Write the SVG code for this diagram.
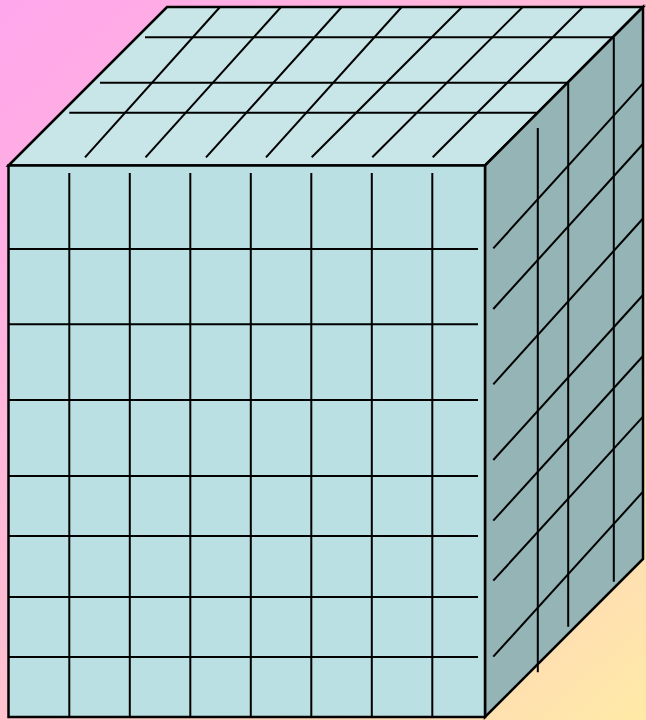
<svg xmlns="http://www.w3.org/2000/svg" width="646" height="720" viewBox="0 0 646 720">
  <defs>
    <linearGradient id="bg" gradientUnits="userSpaceOnUse" x1="0" y1="0" x2="646" y2="720">
      <stop offset="0" stop-color="#FFA6EC"/>
      <stop offset="0.5" stop-color="#FFBFD2"/>
      <stop offset="1" stop-color="#FFEAA6"/>
    </linearGradient>
  </defs>
  <style>
    .face { stroke: #000; stroke-width: 2.5; stroke-linejoin: miter; }
    .grid line { stroke: #000; stroke-width: 2; }
  </style>
  <rect x="0" y="0" width="646" height="720" fill="url(#bg)"/>

  <g id="top-face">
    <polygon class="face" points="8.5,165.5 167,7 643,7 485,165.5" fill="#C8E5E7"/>
  </g>
  <g id="right-face">
    <polygon class="face" points="485,165.5 643,7 643,559 485,717" fill="#95B4B5"/>
  </g>
  <g id="front-face">
    <rect class="face" x="8.5" y="165.5" width="476.5" height="551.5" fill="#BBE0E3"/>
  </g>

  <g id="front-grid" class="grid">
    <line x1="69.3" y1="173" x2="69.3" y2="717"/>
    <line x1="129.8" y1="173" x2="129.8" y2="717"/>
    <line x1="190.3" y1="173" x2="190.3" y2="717"/>
    <line x1="250.8" y1="173" x2="250.8" y2="717"/>
    <line x1="311.3" y1="173" x2="311.3" y2="717"/>
    <line x1="371.8" y1="173" x2="371.8" y2="717"/>
    <line x1="432.3" y1="173" x2="432.3" y2="717"/>
    <line x1="8.5" y1="249" x2="478" y2="249"/>
    <line x1="8.5" y1="324.3" x2="478" y2="324.3"/>
    <line x1="8.5" y1="400" x2="478" y2="400"/>
    <line x1="8.5" y1="476" x2="478" y2="476"/>
    <line x1="8.5" y1="536" x2="478" y2="536"/>
    <line x1="8.5" y1="597" x2="478" y2="597"/>
    <line x1="8.5" y1="657" x2="478" y2="657"/>
  </g>

  <g id="top-grid" class="grid">
    <line x1="145" y1="37.3" x2="613.5" y2="37.3"/>
    <line x1="100" y1="82.7" x2="568" y2="82.7"/>
    <line x1="69.3" y1="112.8" x2="537.5" y2="112.8"/>
    <line x1="85" y1="157.3" x2="220" y2="7"/>
    <line x1="145.5" y1="157.3" x2="281" y2="7"/>
    <line x1="206" y1="157.3" x2="341.7" y2="7"/>
    <line x1="266" y1="157.3" x2="401.7" y2="7"/>
    <line x1="311.7" y1="157.3" x2="462" y2="7"/>
    <line x1="372.3" y1="157.3" x2="522.7" y2="7"/>
    <line x1="432.7" y1="157.3" x2="583" y2="7"/>
  </g>

  <g id="right-grid" class="grid">
    <line x1="537.8" y1="128" x2="537.8" y2="672.3"/>
    <line x1="568.2" y1="82.7" x2="568.2" y2="626.7"/>
    <line x1="613.8" y1="37.3" x2="613.8" y2="581.7"/>
    <line x1="493.3" y1="248.3" x2="643" y2="83.3"/>
    <line x1="493.3" y1="309" x2="643" y2="144"/>
    <line x1="493.3" y1="384.3" x2="643" y2="218.5"/>
    <line x1="493.3" y1="460" x2="643" y2="295"/>
    <line x1="493.3" y1="520.7" x2="643" y2="356"/>
    <line x1="493.3" y1="580.7" x2="643" y2="416.7"/>
    <line x1="493.3" y1="656.7" x2="643" y2="491.7"/>
  </g>
</svg>
